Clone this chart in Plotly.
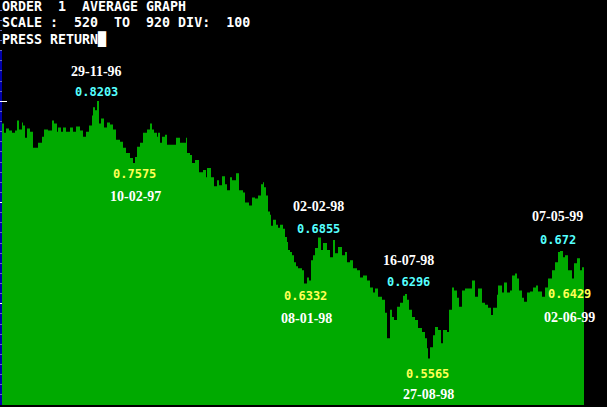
import plotly.graph_objects as go

# time position of each sample (chart columns) and the average value there
t = [2, 4, 6, 9, 12, 15, 17, 19, 22, 23, 25, 27, 30, 33, 35, 38, 42, 44, 48, 52,
     54, 57, 58, 61, 63, 66, 70, 73, 76, 80, 83, 86, 89, 92, 93, 95, 97, 99, 101, 104,
     107, 110, 113, 116, 120, 123, 126, 130, 133, 135, 137, 140, 143, 147, 150, 152, 154, 157, 158, 160,
     162, 165, 167, 172, 176, 180, 183, 186, 187, 190, 192, 195, 199, 203, 206, 207, 211, 214, 217, 219,
     222, 225, 227, 230, 232, 236, 239, 243, 245, 249, 252, 255, 258, 261, 263, 264, 266, 268, 270, 271,
     273, 276, 278, 280, 283, 285, 287, 288, 290, 292, 294, 296, 298, 300, 302, 304, 307, 309, 311, 313,
     315, 318, 321, 323, 327, 330, 333, 335, 338, 342, 345, 347, 350, 353, 357, 360, 363, 367, 370, 373,
     375, 378, 382, 385, 387, 390, 392, 394, 397, 400, 403, 405, 407, 409, 412, 415, 418, 422, 425, 427,
     428, 430, 433, 435, 438, 441, 443, 447, 449, 452, 454, 457, 459, 462, 465, 468, 472, 475, 478, 482,
     485, 488, 491, 493, 497, 498, 502, 504, 507, 510, 512, 515, 517, 519, 522, 524, 527, 530, 533, 536,
     538, 542, 545, 548, 552, 555, 558, 560, 563, 565, 568, 572, 574, 577, 580, 582, 584]
avg = [0.798, 0.789, 0.793, 0.791, 0.789, 0.791, 0.801, 0.792, 0.799, 0.796, 0.784, 0.793, 0.790, 0.774, 0.774, 0.779, 0.785, 0.792, 0.791, 0.801,
       0.798, 0.790, 0.794, 0.790, 0.794, 0.790, 0.794, 0.790, 0.795, 0.791, 0.785, 0.790, 0.796, 0.806, 0.814, 0.811, 0.8203, 0.798, 0.803, 0.794,
       0.799, 0.797, 0.792, 0.782, 0.780, 0.774, 0.769, 0.764, 0.759, 0.765, 0.775, 0.779, 0.789, 0.792, 0.798, 0.792, 0.789, 0.785, 0.789, 0.779,
       0.785, 0.787, 0.777, 0.777, 0.784, 0.779, 0.779, 0.784, 0.769, 0.767, 0.759, 0.762, 0.750, 0.752, 0.745, 0.754, 0.745, 0.736, 0.742, 0.737,
       0.746, 0.738, 0.732, 0.745, 0.742, 0.749, 0.732, 0.730, 0.720, 0.717, 0.725, 0.724, 0.727, 0.738, 0.740, 0.735, 0.727, 0.711, 0.708, 0.697,
       0.703, 0.698, 0.695, 0.698, 0.694, 0.686, 0.681, 0.673, 0.671, 0.668, 0.661, 0.657, 0.655, 0.655, 0.653, 0.640, 0.646, 0.643, 0.663, 0.668,
       0.675, 0.6855, 0.673, 0.680, 0.673, 0.666, 0.683, 0.670, 0.676, 0.668, 0.671, 0.661, 0.663, 0.655, 0.653, 0.646, 0.648, 0.643, 0.636, 0.631,
       0.635, 0.627, 0.624, 0.611, 0.586, 0.614, 0.607, 0.604, 0.617, 0.621, 0.628, 0.6296, 0.624, 0.614, 0.607, 0.604, 0.596, 0.592, 0.586, 0.576,
       0.566, 0.577, 0.589, 0.597, 0.594, 0.581, 0.594, 0.592, 0.614, 0.636, 0.633, 0.626, 0.617, 0.633, 0.635, 0.635, 0.643, 0.627, 0.635, 0.621,
       0.619, 0.616, 0.609, 0.616, 0.629, 0.638, 0.631, 0.641, 0.631, 0.633, 0.648, 0.650, 0.645, 0.633, 0.626, 0.622, 0.631, 0.632, 0.636, 0.638,
       0.632, 0.627, 0.636, 0.645, 0.653, 0.661, 0.671, 0.672, 0.666, 0.668, 0.653, 0.645, 0.660, 0.665, 0.653, 0.656, 0.656]

# header text lines
header = ["ORDER  1  AVERAGE GRAPH", "SCALE :  520  TO  920 DIV:  100", "PRESS RETURN\u2588"]

# labelled highs and lows
peak_dates = ["29-11-96", "02-02-98", "16-07-98", "07-05-99"]
peak_vals = ["0.8203", "0.6855", "0.6296", "0.672"]
low_dates = ["10-02-97", "08-01-98", "27-08-98", "02-06-99"]
low_vals = ["0.7575", "0.6332", "0.5565", "0.6429"]

# label layout positions (pixels)
peak_date_pos = [(97, 71), (318, 207), (408, 260), (557, 217)]
peak_val_pos = [(97, 92), (318, 229), (408, 282), (558, 240)]
low_val_pos = [(134, 174), (305, 296), (427, 374), (569, 294)]
low_date_pos = [(135, 196), (306, 318), (428, 394), (569, 317)]

W, H = 607, 407
PLOT_H = 405

def px(x, y):
    return x / W, 1 - y / PLOT_H

fig = go.Figure()
fig.add_trace(go.Scatter(x=t, y=avg, mode="lines", line=dict(shape="hv", width=0, color="#00AA00"),
                         fill="tozeroy", fillcolor="#00AA00", hoverinfo="skip"))

ann = []
header_y = [7, 22, 39]
for txt, yy in zip(header, header_y):
    ax, ay = px(0, yy)
    ann.append(dict(x=ax, y=ay, xref="paper", yref="paper", xanchor="left", yanchor="middle",
                    text="<b>%s</b>" % txt.replace(" ", "\u00a0"), showarrow=False,
                    font=dict(family="DejaVu Sans Mono", size=13.3, color="white")))

def lab(text, pos, color, family, size):
    ax, ay = px(*pos)
    ann.append(dict(x=ax, y=ay, xref="paper", yref="paper", xanchor="center", yanchor="middle",
                    text=text, showarrow=False, font=dict(family=family, size=size, color=color)))

serif = "Liberation Serif"
mono = "DejaVu Sans Mono"
for d, p in zip(peak_dates, peak_date_pos):
    lab("<b>%s</b>" % d, p, "white", serif, 14)
for v, p in zip(peak_vals, peak_val_pos):
    lab("<b>%s</b>" % v, p, "#55FFFF", mono, 12)
for v, p in zip(low_vals, low_val_pos):
    lab("<b>%s</b>" % v, p, "#FFFF55", mono, 12)
for d, p in zip(low_dates, low_date_pos):
    lab("<b>%s</b>" % d, p, "white", serif, 14)

fig.update_layout(
    width=W, height=H, margin=dict(l=0, r=0, t=0, b=H - PLOT_H),
    paper_bgcolor="black", plot_bgcolor="black", showlegend=False,
    annotations=ann,
    shapes=[dict(type="line", xref="x", yref="paper", x0=1, x1=1, y0=0, y1=1 - 50 / PLOT_H,
                 line=dict(color="#0000AA", width=2), layer="below")],
)
fig.update_xaxes(range=[0, W], visible=False, showgrid=False, zeroline=False)
fig.update_yaxes(range=[0.52, 0.92], showgrid=False, zeroline=False, showticklabels=False,
                 ticks="inside", ticklen=7, tickcolor="white", tickwidth=1,
                 tickvals=[0.52, 0.62, 0.72, 0.82], layer="below traces",
                 minor=dict(ticks="inside", ticklen=2, dtick=0.01, tickcolor="#6666BB", tickwidth=1))

fig.write_html("out.html", config={"displayModeBar": False},
               post_script="document.body.style.margin='0';document.body.style.background='black';")
